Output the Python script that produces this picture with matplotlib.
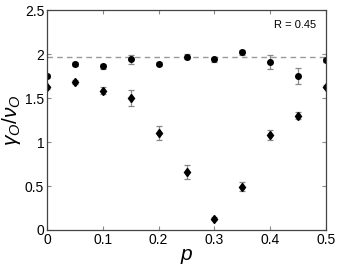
import matplotlib
matplotlib.use('Agg')
import matplotlib.pyplot as plt
import numpy as np

plt.rcParams['font.family'] = ['Liberation Sans', 'DejaVu Sans']
plt.rcParams['mathtext.fontset'] = 'custom'
plt.rcParams['mathtext.rm'] = 'Liberation Sans'
plt.rcParams['mathtext.it'] = 'Liberation Sans:italic'

p = [0, 0.05, 0.1, 0.15, 0.2, 0.25, 0.3, 0.35, 0.4, 0.45, 0.5]
circ = [1.75, 1.886, 1.86, 1.94, 1.89, 1.97, 1.94, 2.02, 1.91, 1.75, 1.93]
circ_err = [0.02, 0.02, 0.025, 0.05, 0.02, 0.03, 0.03, 0.03, 0.08, 0.09, 0.02]
diam = [1.62, 1.68, 1.58, 1.50, 1.10, 0.66, 0.13, 0.49, 1.08, 1.30, 1.63]
diam_err = [0.02, 0.02, 0.04, 0.09, 0.08, 0.08, 0.02, 0.05, 0.06, 0.04, 0.02]
ref_level = 1.97

fig = plt.figure(figsize=(3.39, 2.71), dpi=100)
ax = fig.add_axes([0.1386, 0.1513, 0.8231, 0.8117])

ax.axhline(ref_level, color='#999999', linestyle='--', linewidth=1, dashes=(4, 3))
ax.errorbar(p, circ, yerr=circ_err, fmt='o', color='black', markersize=4,
            ecolor='#888888', elinewidth=0.9, capsize=2.5, capthick=0.9)
ax.errorbar(p, diam, yerr=diam_err, fmt='d', color='black', markersize=4.5,
            ecolor='#888888', elinewidth=0.9, capsize=2.5, capthick=0.9)

ax.set_xlim(0, 0.5)
ax.set_ylim(0, 2.5)
ax.set_xticks([0, 0.1, 0.2, 0.3, 0.4, 0.5])
ax.set_xticklabels(['0', '0.1', '0.2', '0.3', '0.4', '0.5'])
ax.set_yticks([0, 0.5, 1, 1.5, 2, 2.5])
ax.set_yticklabels(['0', '0.5', '1', '1.5', '2', '2.5'])
ax.tick_params(direction='in', top=True, right=True, labelsize=10,
               length=3, color='#888888', pad=2)
for s in ax.spines.values():
    s.set_color('#444444')
    s.set_linewidth(0.9)

ax.text(0.965, 0.93, 'R = 0.45', transform=ax.transAxes, ha='right',
        va='center', fontsize=8)
ax.set_xlabel('$p$', fontsize=15, labelpad=0)
ax.set_ylabel(r'$\gamma_O/\nu_O$', fontsize=15, labelpad=1)

fig.savefig('out.png', dpi=100)
